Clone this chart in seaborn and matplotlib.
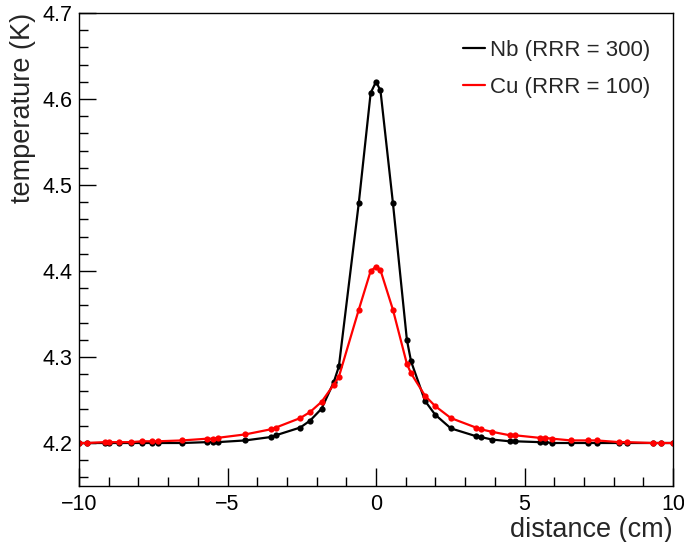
import numpy as np
import pandas as pd
import matplotlib
matplotlib.use("Agg")
import matplotlib.pyplot as plt
import seaborn as sns
from matplotlib.ticker import MultipleLocator

# positions along the sample (cm)
distance = [-10.0, -9.72, -9.13, -8.99, -8.67, -8.26, -7.87, -7.53, -7.33, -6.52,
            -5.69, -5.48, -5.33, -4.40, -3.53, -3.37, -2.55, -2.22, -1.83, -1.42,
            -1.25, -0.58, -0.18, 0.0, 0.15, 0.57, 1.04, 1.18, 1.65, 1.99,
            2.52, 3.36, 3.52, 3.91, 4.50, 4.67, 5.51, 5.68, 5.94, 6.56,
            7.14, 7.43, 8.19, 8.44, 9.31, 9.58, 10.0]

# temperature (K) for Nb, RRR = 300
temp_nb = [4.200, 4.200, 4.200, 4.200, 4.200, 4.200, 4.200, 4.200, 4.200, 4.200,
           4.201, 4.201, 4.201, 4.203, 4.207, 4.209, 4.218, 4.226, 4.240, 4.271,
           4.289, 4.479, 4.607, 4.620, 4.610, 4.479, 4.320, 4.295, 4.249, 4.233,
           4.217, 4.208, 4.207, 4.204, 4.202, 4.202, 4.201, 4.201, 4.200, 4.200,
           4.200, 4.200, 4.200, 4.200, 4.200, 4.200, 4.200]

# temperature (K) for Cu, RRR = 100
temp_cu = [4.200, 4.200, 4.201, 4.201, 4.201, 4.201, 4.202, 4.202, 4.202, 4.203,
           4.205, 4.205, 4.206, 4.210, 4.216, 4.218, 4.229, 4.236, 4.248, 4.268,
           4.277, 4.355, 4.400, 4.405, 4.401, 4.355, 4.292, 4.281, 4.255, 4.243,
           4.229, 4.218, 4.216, 4.213, 4.209, 4.209, 4.206, 4.206, 4.205, 4.203,
           4.203, 4.203, 4.201, 4.201, 4.200, 4.200, 4.200]

labels = ["Nb (RRR = 300)", "Cu (RRR = 100)"]
colors = ["black", "red"]

df = pd.DataFrame({
    "distance": distance * 2,
    "temperature": temp_nb + temp_cu,
    "material": [labels[0]] * len(distance) + [labels[1]] * len(distance),
})

sns.set_theme(style="ticks")
plt.rcParams["font.family"] = ["Liberation Sans", "DejaVu Sans"]
plt.rcParams["axes.unicode_minus"] = True

fig = plt.figure(figsize=(6.84, 5.42), dpi=100)
ax = fig.add_axes([79 / 684, 1 - 486 / 542, 594 / 684, 473 / 542])

sns.lineplot(data=df, x="distance", y="temperature", hue="material",
             palette=dict(zip(labels, colors)), marker="o", markersize=4.5,
             markeredgewidth=0, linewidth=1.6, sort=False, ax=ax)

ax.set_xlim(-10, 10)
ax.set_ylim(4.15, 4.7)
ax.xaxis.set_major_locator(MultipleLocator(5))
ax.xaxis.set_minor_locator(MultipleLocator(1))
ax.yaxis.set_major_locator(MultipleLocator(0.1))
ax.yaxis.set_minor_locator(MultipleLocator(0.02))
ax.yaxis.set_major_formatter(matplotlib.ticker.FormatStrFormatter("%.1f"))

ax.tick_params(which="both", direction="in", top=False, right=False,
               labelsize=15.5, colors="black", width=1)
ax.tick_params(axis="y", which="major", length=12.5, pad=4.5)
ax.tick_params(axis="y", which="minor", length=6.5)
ax.tick_params(axis="x", which="major", length=13, pad=6)
ax.tick_params(axis="x", which="minor", length=6.5)
for s in ax.spines.values():
    s.set_visible(True)
    s.set_color("black")
    s.set_linewidth(1)

ax.set_xlabel("distance (cm)", fontsize=19.5, loc="right")
ax.xaxis.set_label_coords(1.0, -0.065)
ax.set_ylabel("temperature (K)", fontsize=19.5, loc="top", labelpad=5)

leg = ax.legend(frameon=False, loc="upper right", bbox_to_anchor=(659 / 684, 1 - 31 / 542),
                bbox_transform=fig.transFigure, fontsize=16, handlelength=1.0,
                handletextpad=0.22, labelspacing=0.72, borderaxespad=0)
for h in leg.legend_handles:
    h.set_marker("")
    h.set_linewidth(1.6)

fig.savefig("out.png", dpi=100)
